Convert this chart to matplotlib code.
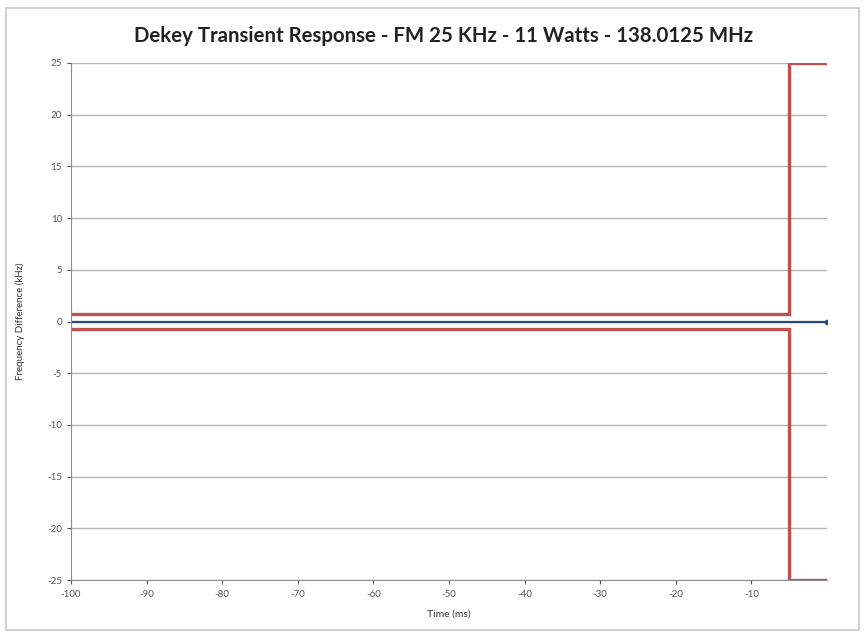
import matplotlib
matplotlib.use("Agg")
import matplotlib.pyplot as plt
from matplotlib.patches import Rectangle

# measured trace and mask limits (kHz vs ms)
t_meas = [-100, 0]
f_meas = [0, 0]
t_mask = [-100, -5, -5, 0]
f_upper = [0.75, 0.75, 25, 25]
f_lower = [-0.75, -0.75, -25, -25]
xticks = [-100, -90, -80, -70, -60, -50, -40, -30, -20, -10]
yticks = [-25, -20, -15, -10, -5, 0, 5, 10, 15, 20, 25]

plt.rcParams['font.family'] = ['Lato', 'DejaVu Sans']
plt.rcParams['axes.unicode_minus'] = False

fig = plt.figure(figsize=(8.65, 6.35), dpi=100)
fig.patches.append(Rectangle((6/865, 5/635), 853/865, 622/635, transform=fig.transFigure,
                             fill=False, ec='#c8c8c8', lw=1.2))
ax = fig.add_axes([71/865, 55/635, 756/865, 517/635])

ax.plot(t_mask, f_upper, color='#c0504d', lw=2.4, solid_joinstyle='miter')
ax.plot(t_mask, f_lower, color='#c0504d', lw=2.4, solid_joinstyle='miter')
ax.plot(t_meas, f_meas, color='#2a4a7a', lw=1.6, marker='o', markersize=3, markevery=[1])

ax.set_xlim(-100, 0)
ax.set_ylim(-25, 25)
ax.set_xticks(xticks)
ax.set_yticks(yticks)
ax.tick_params(axis='both', labelsize=7, colors='#555555', length=3, direction='out')
ax.tick_params(axis='x', pad=4)
ax.yaxis.grid(True, color='#b5b5b5', lw=1)
ax.set_axisbelow(True)
for s in ['top', 'right']:
    ax.spines[s].set_visible(False)
for s in ['left', 'bottom']:
    ax.spines[s].set_color('#8c8c8c')

ax.set_xlabel("Time (ms)", fontsize=7.5, color='#333333', labelpad=8)
ax.set_ylabel("Frequency Difference (kHz)", fontsize=7, color='#333333', labelpad=16)
fig.text(0.513, 0.943, "Dekey Transient Response - FM 25 KHz - 11 Watts - 138.0125 MHz",
         ha='center', va='center', fontsize=14.7, fontweight='bold', color='#222222')

fig.savefig('out.png', dpi=100)
